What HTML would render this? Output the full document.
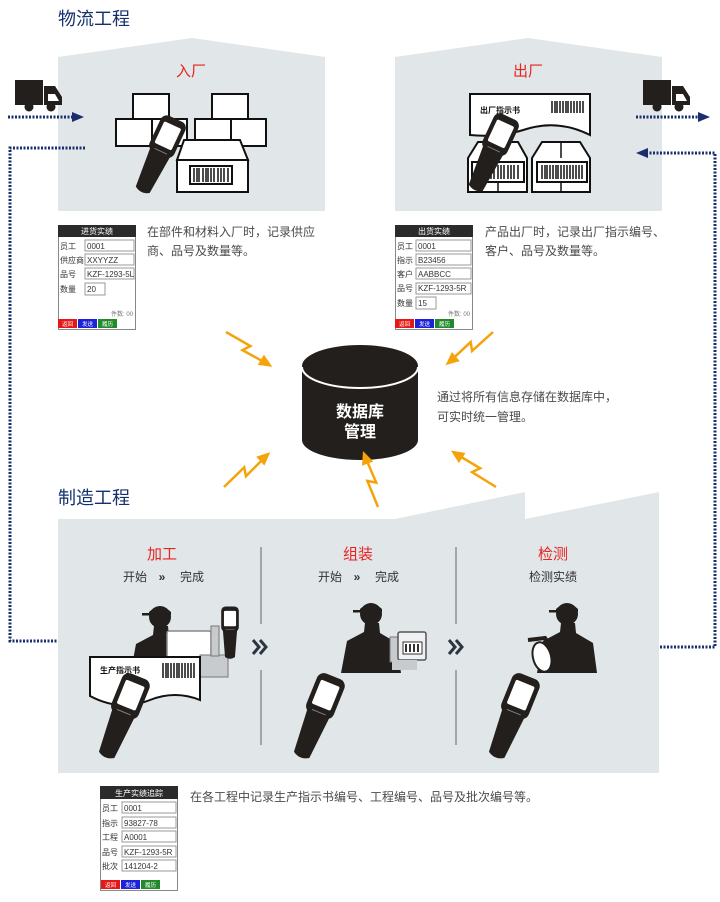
<!DOCTYPE html>
<html><head><meta charset="utf-8"><style>
html,body{margin:0;padding:0;background:#fff;}
svg{display:block;}
text{font-family:"Liberation Sans","Noto Sans CJK SC",sans-serif;}
</style></head><body>
<svg width="720" height="902" viewBox="0 0 720 902" xmlns="http://www.w3.org/2000/svg">
<defs>
  <g id="scn">
    <path d="M-13,12 L13,12 L9,62 Q0,68 -9,62 Z" fill="#231f1c"/>
    <rect x="-16" y="-30" width="32" height="46" rx="8" fill="#231f1c"/>
    <rect x="-11" y="-22" width="22" height="28" rx="2" fill="#fff"/>
    <line x1="-8" y1="12" x2="8" y2="12" stroke="#888" stroke-width="1"/>
  </g>
  <g id="wk">
    <path d="M-6,8 L-7,17 L-24,26 L-30,58 L30,58 L26,28 L9,18 L8,8 Z" fill="#231f1c"/>
    <circle cx="0" cy="-1" r="11" fill="#231f1c"/>
    <path d="M-11,-6 Q0,-16 11,-6 L11,-3 L-11,-3 Z" fill="#231f1c"/>
    <rect x="-18" y="-5" width="9" height="2.5" fill="#231f1c"/>
  </g>
  <g id="bolt">
    <path d="M0,0 L28,-3 L24,5 L48,2" fill="none" stroke="#f5a30a" stroke-width="2.5" stroke-linejoin="miter"/>
    <polygon points="44,-4 58,1 45,8" fill="#f5a30a"/>
  </g>
</defs>

<!-- titles -->
<text x="58" y="25" font-size="18" fill="#14306e">物流工程</text>
<text x="58" y="504" font-size="18" fill="#14306e">制造工程</text>

<!-- top panels -->
<polygon points="58,57 192,38 325,57 325,211 58,211" fill="#e1e6e9"/>
<polygon points="395,57 528,38 662,57 662,211 395,211" fill="#e1e6e9"/>
<text x="191" y="76" font-size="15" fill="#e8231f" text-anchor="middle">入厂</text>
<text x="528" y="76" font-size="15" fill="#e8231f" text-anchor="middle">出厂</text>

<!-- left boxes -->
<g fill="#fff" stroke="#111" stroke-width="2">
  <rect x="133" y="94" width="36" height="25"/>
  <rect x="116" y="119" width="36" height="27"/>
  <rect x="152" y="119" width="35" height="27"/>
  <rect x="212" y="94" width="36" height="25"/>
  <rect x="195" y="119" width="36" height="27"/>
  <rect x="231" y="119" width="35" height="27"/>
  <polygon points="184,140 240,140 248,160 177,160"/>
  <rect x="177" y="160" width="71" height="32"/>
  <rect x="190" y="166" width="42" height="18"/>
</g>
<g stroke="#111" stroke-width="1.5">
  <path d="M194,168v14M197,168v14M199,168v14M203,168v14M206,168v14M208,168v14M211,168v14M214,168v14M218,168v14M221,168v14M224,168v14M228,168v14"/>
</g>
<use href="#scn" transform="translate(165,142) rotate(25) scale(0.85)"/>

<!-- right panel art -->
<path d="M470,94 L590,94 L590,135 Q560,120 530,128 Q500,138 470,135 Z" fill="#fff" stroke="#111" stroke-width="2"/>
<text x="480" y="113" font-size="8" font-weight="bold" fill="#111">出厂指示书</text>
<path d="M552,101v12M555,101v12M557,101v12M560,101v12M563,101v12M566,101v12M568,101v12M571,101v12M574,101v12M577,101v12M580,101v12M583,101v12" stroke="#111" stroke-width="1.5"/>
<g fill="#fff" stroke="#111" stroke-width="2">
  <polygon points="468,158 478,142 518,142 527,158 527,192 468,192"/>
  <polygon points="532,158 542,142 580,142 590,158 590,192 532,192"/>
  <rect x="472" y="162" width="52" height="20"/>
  <rect x="537" y="162" width="50" height="20"/>
</g>
<path d="M498,142v16M561,142v16M498,182v10M561,182v10" stroke="#111" stroke-width="1.5"/>
<path d="M542,165v14M545,165v14M547,165v14M550,165v14M553,165v14M556,165v14M558,165v14M561,165v14M564,165v14M567,165v14M570,165v14M573,165v14M576,165v14M579,165v14M582,165v14" stroke="#111" stroke-width="1.5"/>
<path d="M478,165v14M481,165v14M484,165v14M488,165v14M491,165v14M494,165v14M498,165v14M501,165v14M504,165v14M508,165v14M511,165v14M514,165v14M518,165v14" stroke="#111" stroke-width="1.5"/>
<use href="#scn" transform="translate(498,140) rotate(25) scale(0.85)"/>

<!-- trucks -->
<g fill="#231f1c">
  <rect x="15" y="80" width="28" height="25"/>
  <path d="M44,86 L55,86 L62,97 L62,105 L44,105 Z"/>
  <circle cx="29" cy="107" r="4.5"/><circle cx="51" cy="107" r="4.5"/>
  <rect x="643" y="80" width="28" height="25"/>
  <path d="M672,86 L683,86 L690,97 L690,105 L672,105 Z"/>
  <circle cx="657" cy="107" r="4.5"/><circle cx="679" cy="107" r="4.5"/>
</g>
<path d="M48,94 L55,94 L59,101 L48,101 Z" fill="#fff"/>
<path d="M676,94 L683,94 L687,101 L676,101 Z" fill="#fff"/>

<!-- dotted connectors -->
<g stroke="#1a2e6e" stroke-width="3" fill="none" stroke-dasharray="2,1.5">
  <line x1="8" y1="117" x2="74" y2="117"/>
  <path d="M85,148 L10,148 L10,641 L66,641"/>
  <line x1="636" y1="117" x2="700" y2="117"/>
  <path d="M646,153 L715,153 L715,647 L636,647"/>
</g>
<g fill="#1a2e6e">
  <polygon points="72,112 84,117 72,122"/>
  <polygon points="64,636 76,641 64,646"/>
  <polygon points="698,112 710,117 698,122"/>
  <polygon points="648,148 636,153 648,158"/>
</g>

<!-- forms -->
<g font-size="8" fill="#333">
  <rect x="58.5" y="225.5" width="77" height="104" fill="#fff" stroke="#888"/>
  <rect x="58" y="225" width="78" height="12" fill="#2b2b2b"/>
  <text x="97" y="234" fill="#fff" text-anchor="middle">进货实绩</text>
  <g fill="#fff" stroke="#999"><rect x="85" y="240" width="49" height="11"/><rect x="85" y="254" width="49" height="11"/><rect x="85" y="268" width="49" height="11"/><rect x="85" y="283" width="20" height="12"/></g>
  <text x="60" y="249">员工</text><text x="87" y="249">0001</text>
  <text x="60" y="263">供应商</text><text x="87" y="263">XXYYZZ</text>
  <text x="60" y="277">品号</text><text x="87" y="277">KZF-1293-5L</text>
  <text x="60" y="292">数量</text><text x="87" y="292">20</text>
  <text x="133" y="316" font-size="6" text-anchor="end" fill="#777">件数:   00</text>
  <rect x="58" y="319" width="19" height="9" fill="#e51717"/><rect x="78" y="319" width="19" height="9" fill="#1c22d8"/><rect x="98" y="319" width="19" height="9" fill="#228a2a"/>
  <rect x="395.5" y="225.5" width="77" height="104" fill="#fff" stroke="#888"/>
  <rect x="395" y="225" width="78" height="12" fill="#2b2b2b"/>
  <text x="434" y="234" fill="#fff" text-anchor="middle">出货实绩</text>
  <g fill="#fff" stroke="#999"><rect x="416" y="240" width="55" height="11"/><rect x="416" y="254" width="55" height="11"/><rect x="416" y="268" width="55" height="11"/><rect x="416" y="283" width="55" height="11"/><rect x="416" y="297" width="20" height="12"/></g>
  <text x="397" y="249">员工</text><text x="418" y="249">0001</text>
  <text x="397" y="263">指示</text><text x="418" y="263">B23456</text>
  <text x="397" y="277">客户</text><text x="418" y="277">AABBCC</text>
  <text x="397" y="291">品号</text><text x="418" y="291">KZF-1293-5R</text>
  <text x="397" y="306">数量</text><text x="418" y="306">15</text>
  <text x="470" y="316" font-size="6" text-anchor="end" fill="#777">件数:   00</text>
  <rect x="395" y="319" width="19" height="9" fill="#e51717"/><rect x="415" y="319" width="19" height="9" fill="#1c22d8"/><rect x="435" y="319" width="19" height="9" fill="#228a2a"/>
  <rect x="100.5" y="786.5" width="77" height="104" fill="#fff" stroke="#888"/>
  <rect x="100" y="786" width="78" height="13" fill="#2b2b2b"/>
  <text x="139" y="796" fill="#fff" text-anchor="middle">生产实绩追踪</text>
  <g fill="#fff" stroke="#999"><rect x="122" y="802" width="54" height="11"/><rect x="122" y="817" width="54" height="11"/><rect x="122" y="831" width="54" height="11"/><rect x="122" y="846" width="54" height="11"/><rect x="122" y="860" width="54" height="11"/></g>
  <text x="102" y="811">员工</text><text x="124" y="811">0001</text>
  <text x="102" y="826">指示</text><text x="124" y="826">93827-78</text>
  <text x="102" y="840">工程</text><text x="124" y="840">A0001</text>
  <text x="102" y="855">品号</text><text x="124" y="855">KZF-1293-5R</text>
  <text x="102" y="869">批次</text><text x="124" y="869">141204-2</text>
  <rect x="101" y="880" width="19" height="9" fill="#e51717"/><rect x="121" y="880" width="19" height="9" fill="#1c22d8"/><rect x="141" y="880" width="19" height="9" fill="#228a2a"/>
</g>
<g font-size="5.5" fill="#fff">
  <text x="62" y="326">返回</text><text x="82" y="326">发送</text><text x="102" y="326">履历</text>
  <text x="399" y="326">返回</text><text x="419" y="326">发送</text><text x="439" y="326">履历</text>
  <text x="105" y="887">返回</text><text x="125" y="887">发送</text><text x="145" y="887">履历</text>
</g>

<!-- descriptions -->
<g font-size="12" fill="#4a4a4a">
  <text x="147" y="236">在部件和材料入厂时，记录供应</text>
  <text x="147" y="255">商、品号及数量等。</text>
  <text x="485" y="236">产品出厂时，记录出厂指示编号、</text>
  <text x="485" y="255">客户、品号及数量等。</text>
  <text x="437" y="401">通过将所有信息存储在数据库中，</text>
  <text x="437" y="421">可实时统一管理。</text>
  <text x="190" y="801">在各工程中记录生产指示书编号、工程编号、品号及批次编号等。</text>
</g>

<!-- bottom panel -->
<polygon points="58,519 395,519 525,492 525,519 659,492 659,773 58,773" fill="#e1e6e9"/>

<!-- cylinder -->
<path d="M302,366 L302,440 A58,20 0 0 0 418,440 L418,366 Z" fill="#231f1c"/>
<ellipse cx="360" cy="366" rx="58" ry="21" fill="#231f1c"/>
<path d="M302,367 A58,21 0 0 0 418,367" fill="none" stroke="#fff" stroke-width="2"/>
<text x="360" y="417" font-size="16" font-weight="bold" fill="#fff" text-anchor="middle">数据库</text>
<text x="360" y="437" font-size="16" font-weight="bold" fill="#fff" text-anchor="middle">管理</text>

<!-- bolts -->
<use href="#bolt" transform="translate(226,332) rotate(36)"/>
<use href="#bolt" transform="translate(493,332) rotate(144)"/>
<use href="#bolt" transform="translate(224,487) rotate(-38)"/>
<use href="#bolt" transform="translate(496,487) rotate(-142)"/>
<use href="#bolt" transform="translate(378,507) rotate(-106)"/>

<!-- process labels -->
<g font-size="15" fill="#e8231f" text-anchor="middle">
  <text x="162" y="559">加工</text><text x="358" y="559">组装</text><text x="553" y="559">检测</text>
</g>
<g font-size="12" fill="#333" text-anchor="middle">
  <text x="135" y="581">开始</text><text x="162" y="581" font-weight="bold">»</text><text x="192" y="581">完成</text>
  <text x="330" y="581">开始</text><text x="357" y="581" font-weight="bold">»</text><text x="387" y="581">完成</text>
  <text x="553" y="581">检测实绩</text>
</g>
<g stroke="#8a9096" stroke-width="1.5">
  <line x1="261" y1="547" x2="261" y2="624"/><line x1="261" y1="670" x2="261" y2="745"/>
  <line x1="456" y1="547" x2="456" y2="624"/><line x1="456" y1="670" x2="456" y2="745"/>
</g>
<g stroke="#2c3540" stroke-width="3" fill="none">
  <path d="M253,640 L259,647 L253,654M260,640 L266,647 L260,654"/>
  <path d="M449,640 L455,647 L449,654M456,640 L462,647 L456,654"/>
</g>

<!-- workers -->
<use href="#wk" transform="translate(160,618)"/>
<rect x="167" y="631" width="44" height="36" rx="2" fill="#fff" stroke="#888" stroke-width="1.5"/>
<rect x="200" y="655" width="28" height="22" fill="#c8cbce" stroke="#777"/>
<rect x="211" y="626" width="8" height="30" fill="#c8cbce" stroke="#777"/>
<use href="#scn" transform="translate(230,623) scale(0.55)"/>
<path d="M90,657 L200,657 L200,700 Q175,690 150,700 Q120,712 90,696 Z" fill="#fff" stroke="#111" stroke-width="2"/>
<text x="100" y="673" font-size="8" font-weight="bold" fill="#111">生产指示书</text>
<path d="M163,663v15M166,663v15M168,663v15M171,663v15M174,663v15M177,663v15M179,663v15M182,663v15M185,663v15M188,663v15M191,663v15M194,663v15" stroke="#111" stroke-width="1.5"/>
<use href="#scn" transform="translate(128,702) rotate(22) scale(0.92)"/>

<use href="#wk" transform="translate(371,615)"/>
<rect x="390" y="637" width="12" height="25" fill="#c8cbce" stroke="#777"/>
<rect x="398" y="632" width="28" height="28" rx="2" fill="#eef0f1" stroke="#555" stroke-width="1.5"/>
<rect x="403" y="642" width="19" height="12" fill="#fff" stroke="#333"/>
<path d="M406,644v8M410,644v8M414,644v8M418,644v8" stroke="#333" stroke-width="2"/>
<rect x="392" y="660" width="25" height="10" fill="#c8cbce"/>
<use href="#scn" transform="translate(323,702) rotate(22) scale(0.92)"/>

<use href="#wk" transform="translate(567,615)"/>
<path d="M528,640 L545,638 L552,648" stroke="#231f1c" stroke-width="4" fill="none"/>
<ellipse cx="542" cy="657" rx="9" ry="15" transform="rotate(-15 542 657)" fill="#fff" stroke="#231f1c" stroke-width="2"/>
<use href="#scn" transform="translate(518,702) rotate(22) scale(0.92)"/>
</svg>
</body></html>
